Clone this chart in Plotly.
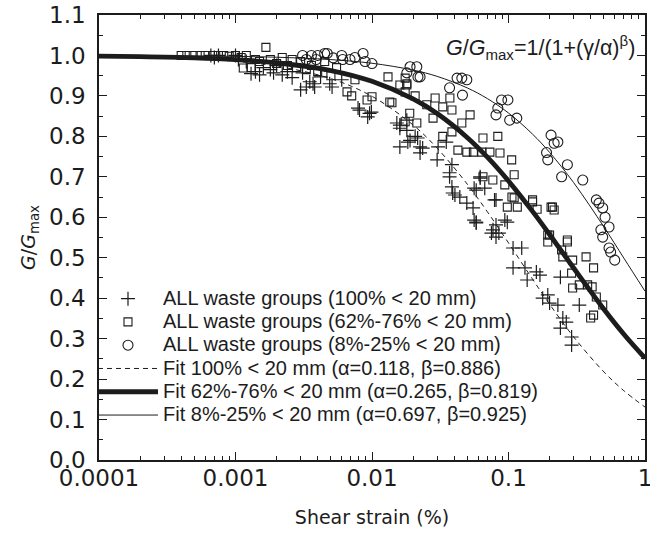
import plotly.graph_objects as go

# ALL waste groups (100% < 20 mm)  -> crosses
x_100 = [0.00066, 0.0007, 0.00075, 0.001, 0.00105, 0.0012, 0.0013, 0.0014, 0.0015, 0.0016,
         0.0018, 0.0019, 0.002, 0.0022, 0.0024, 0.0026, 0.003, 0.0031, 0.0033, 0.0035,
         0.0037, 0.0038, 0.0042, 0.0049, 0.0051, 0.006, 0.0079, 0.0081, 0.0093, 0.0096,
         0.0099, 0.0152, 0.016, 0.016, 0.016, 0.018, 0.018, 0.0183, 0.019, 0.0207,
         0.0216, 0.0225, 0.0225, 0.0235, 0.03, 0.0305, 0.035, 0.037, 0.037, 0.0385,
         0.0385, 0.039, 0.0405, 0.044, 0.0495, 0.055, 0.056, 0.058, 0.062, 0.062,
         0.067, 0.079, 0.081, 0.056, 0.058, 0.058, 0.075, 0.077, 0.081, 0.081,
         0.085, 0.094, 0.098, 0.108, 0.125, 0.108, 0.132, 0.137, 0.16, 0.17,
         0.24, 0.178, 0.194, 0.2, 0.23, 0.33, 0.25, 0.265, 0.24, 0.29, 0.29]
y_100 = [1.0, 0.995, 1.0, 1.0, 0.99, 0.985, 0.955, 0.96, 0.952, 0.97,
         0.965, 0.957, 0.975, 0.952, 0.96, 0.945, 0.915, 0.957, 0.922, 0.935,
         0.93, 0.922, 0.947, 0.93, 0.922, 0.94, 0.87, 0.865, 0.848, 0.857,
         0.86, 0.833, 0.82, 0.828, 0.774, 0.815, 0.84, 0.786, 0.79, 0.80,
         0.796, 0.774, 0.759, 0.771, 0.742, 0.774, 0.786, 0.71, 0.70, 0.675,
         0.73, 0.66, 0.655, 0.65, 0.635, 0.623, 0.672, 0.667, 0.70, 0.697,
         0.672, 0.643, 0.643, 0.593, 0.586, 0.588, 0.561, 0.569, 0.551, 0.581,
         0.561, 0.593, 0.588, 0.524, 0.524, 0.475, 0.475, 0.445, 0.465, 0.457,
         0.452, 0.40, 0.408, 0.388, 0.383, 0.383, 0.351, 0.341, 0.326, 0.304, 0.284]

# ALL waste groups (62%-76% < 20 mm) -> squares
x_62 = [0.0004, 0.00044, 0.00049, 0.00055, 0.0006, 0.00068, 0.00075, 0.00082, 0.0009, 0.001,
        0.0011, 0.00114, 0.0012, 0.0013, 0.0014, 0.0015, 0.00167, 0.0018, 0.002, 0.0022,
        0.0024, 0.0026, 0.0028, 0.003, 0.0033, 0.0036, 0.004, 0.0045, 0.005, 0.0055,
        0.00656, 0.0071, 0.0075, 0.0092, 0.01, 0.0131, 0.0135, 0.014, 0.016, 0.0175,
        0.0175, 0.0175, 0.018, 0.018, 0.0189, 0.0207, 0.0213, 0.0252, 0.028, 0.029,
        0.033, 0.033, 0.0372, 0.0385, 0.0385, 0.0426, 0.0455, 0.0495, 0.0523, 0.0553,
        0.0637, 0.065, 0.065, 0.0731, 0.0768, 0.0835, 0.0866, 0.094, 0.098, 0.1055,
        0.106, 0.11, 0.11, 0.116, 0.15, 0.15, 0.162, 0.194, 0.194, 0.2,
        0.205, 0.21, 0.216, 0.245, 0.25, 0.27, 0.27, 0.29, 0.295, 0.295,
        0.33, 0.37, 0.38, 0.41, 0.42, 0.42, 0.40, 0.44, 0.49]
y_62 = [1.0, 1.0, 1.0, 1.0, 1.0, 1.0, 1.0, 1.0, 0.998, 1.0,
        0.995, 0.969, 1.0, 0.97, 0.99, 0.985, 1.02, 0.99, 0.98, 0.995,
        0.975, 0.99, 0.97, 0.985, 0.965, 0.975, 0.96, 0.985, 0.95, 0.97,
        0.91, 0.90, 0.94, 0.89, 0.898, 0.947, 0.885, 0.883, 0.927, 0.944,
        0.91, 0.836, 0.93, 0.927, 0.857, 0.90, 0.833, 0.878, 0.845, 0.895,
        0.873, 0.80, 0.895, 0.865, 0.811, 0.766, 0.833, 0.761, 0.853, 0.761,
        0.761, 0.796, 0.70, 0.761, 0.692, 0.80, 0.759, 0.68, 0.625, 0.742,
        0.65, 0.705, 0.648, 0.625, 0.638, 0.643, 0.62, 0.556, 0.539, 0.556,
        0.625, 0.625, 0.618, 0.519, 0.502, 0.539, 0.544, 0.462, 0.494, 0.425,
        0.433, 0.502, 0.433, 0.428, 0.475, 0.358, 0.351, 0.403, 0.383]

# ALL waste groups (8%-25% < 20 mm) -> circles
x_8 = [0.0031, 0.0033, 0.0036, 0.0039, 0.004, 0.0045, 0.0047, 0.0052, 0.006, 0.0061,
       0.0069, 0.0075, 0.0086, 0.0089, 0.01, 0.018, 0.019, 0.0213, 0.0217, 0.0225,
       0.037, 0.042, 0.0455, 0.046, 0.0495, 0.081, 0.0835, 0.089, 0.099, 0.102,
       0.115, 0.19, 0.194, 0.205, 0.216, 0.23, 0.245, 0.27, 0.35, 0.44,
       0.46, 0.49, 0.51, 0.545, 0.475, 0.49, 0.545, 0.56, 0.6]
y_8 = [1.0, 0.99, 1.0, 0.99, 1.0, 1.005, 1.005, 0.994, 1.0, 0.99,
       0.99, 0.995, 1.005, 0.985, 0.98, 0.957, 0.972, 0.972, 0.947, 0.947,
       0.92, 0.944, 0.944, 0.902, 0.94, 0.853, 0.87, 0.89, 0.89, 0.84,
       0.845, 0.76, 0.742, 0.803, 0.783, 0.786, 0.70, 0.73, 0.692, 0.643,
       0.635, 0.623, 0.60, 0.576, 0.569, 0.551, 0.524, 0.514, 0.494]

# fitted curves G/Gmax = 1/(1+(gamma/alpha)^beta)
x_fit = [0.0001, 0.0002, 0.0005, 0.001, 0.002, 0.005, 0.01, 0.02, 0.03, 0.05,
         0.07, 0.1, 0.15, 0.2, 0.3, 0.5, 0.7, 1.0]
y_fit_100 = [0.998, 0.9965, 0.992, 0.9856, 0.9737, 0.9427, 0.899, 0.8281, 0.7709, 0.6815,
             0.6136, 0.5366, 0.447, 0.3852, 0.3043, 0.2177, 0.1712, 0.1309]
y_fit_62 = [0.9984, 0.9972, 0.9942, 0.9897, 0.982, 0.9627, 0.9361, 0.8925, 0.8563, 0.7967,
            0.7485, 0.6896, 0.6145, 0.5574, 0.4746, 0.3728, 0.311, 0.252]
y_fit_8 = [0.9997, 0.9995, 0.9988, 0.9977, 0.9956, 0.9897, 0.9807, 0.9639, 0.9483, 0.9196,
           0.8934, 0.8577, 0.8055, 0.7604, 0.6857, 0.5762, 0.499, 0.4173]

x_tickvals = [0.0001, 0.001, 0.01, 0.1, 1]
x_ticktext = ["0.0001", "0.001", "0.01", "0.1", "1"]

INK = "#1c1c1c"
TICKFONT = dict(family="DejaVu Sans", size=23, color=INK)


def leg(s):
    # legend label drawn larger than the legend's row height font
    return '<span style="font-size:20px">' + s + "</span>"


fig = go.Figure()

fig.add_trace(go.Scatter(
    x=x_100, y=y_100, mode="markers", name=leg("ALL waste groups (100% < 20 mm)"),
    marker=dict(symbol="cross-thin-open", size=10, color=INK, line=dict(color=INK, width=1.2)),
))
fig.add_trace(go.Scatter(
    x=x_62, y=y_62, mode="markers", name=leg("ALL waste groups (62%-76% < 20 mm)"),
    marker=dict(symbol="square-open", size=8, color=INK, line=dict(color=INK, width=1.1)),
))
fig.add_trace(go.Scatter(
    x=x_8, y=y_8, mode="markers", name=leg("ALL waste groups (8%-25% < 20 mm)"),
    marker=dict(symbol="circle-open", size=10, color=INK, line=dict(color=INK, width=1.1)),
))
fig.add_trace(go.Scatter(
    x=x_fit, y=y_fit_100, mode="lines", line_shape="spline",
    name=leg("Fit 100% < 20 mm (α=0.118, β=0.886)"),
    line=dict(color=INK, width=1, dash="5px,4px"),
))
fig.add_trace(go.Scatter(
    x=x_fit, y=y_fit_62, mode="lines", line_shape="spline",
    name=leg("Fit 62%-76% < 20 mm (α=0.265, β=0.819)"),
    line=dict(color=INK, width=4.8),
))
fig.add_trace(go.Scatter(
    x=x_fit, y=y_fit_8, mode="lines", line_shape="spline",
    name=leg("Fit 8%-25% < 20 mm (α=0.697, β=0.925)"),
    line=dict(color=INK, width=1),
))

fig.add_annotation(
    text="<i>G</i>/<i>G</i><sub>max</sub>=1/(1+(γ/α)<sup>β</sup>)",
    xref="paper", yref="paper", x=0.985, y=0.926, xanchor="right", yanchor="middle",
    showarrow=False, font=dict(family="Liberation Sans", size=21.5, color=INK),
)

fig.update_layout(
    width=650, height=535,
    margin=dict(l=99, r=5, t=15, b=75),
    paper_bgcolor="white", plot_bgcolor="white",
    font=dict(family="DejaVu Sans", color=INK),
    showlegend=True,
    legend=dict(
        x=-0.011, y=0.4, xanchor="left", yanchor="top",
        bgcolor="rgba(0,0,0,0)", itemwidth=60,
        font=dict(family="Liberation Sans", size=15.6, color=INK),
    ),
    xaxis=dict(
        type="log", range=[-4, 0], automargin=False,
        tickvals=x_tickvals, ticktext=x_ticktext,
        ticks="inside", ticklen=8, tickwidth=1.3, tickcolor=INK,
        minor=dict(ticks="inside", ticklen=4, tickwidth=1, tickcolor=INK, dtick="D1", showgrid=False),
        showline=True, linecolor=INK, linewidth=1.5, mirror="ticks",
        showgrid=False, zeroline=False, tickfont=TICKFONT, ticklabelstandoff=-3,
        ticklabeloverflow="allow",
        title=dict(text="Shear strain (%)", font=dict(family="DejaVu Sans", size=19, color=INK), standoff=20),
    ),
    yaxis=dict(
        range=[0, 1.1], dtick=0.1, tick0=0, tickformat=".1f", automargin=False,
        ticks="inside", ticklen=8, tickwidth=1.3, tickcolor=INK,
        minor=dict(ticks="inside", ticklen=4, tickwidth=1, tickcolor=INK, dtick=0.05, showgrid=False),
        showline=True, linecolor=INK, linewidth=1.5, mirror="ticks",
        showgrid=False, zeroline=False, tickfont=TICKFONT, ticklabelstandoff=7,
        ticklabeloverflow="allow",
        title=dict(text="<i>G</i>/<i>G</i><sub>max</sub>", font=dict(family="DejaVu Sans", size=19, color=INK), standoff=8),
    ),
)

# drop the page's default body margin so the figure sits at the window corner
fig.write_html("out.html", config={"displayModeBar": False},
               post_script="document.body.style.margin='0';")
